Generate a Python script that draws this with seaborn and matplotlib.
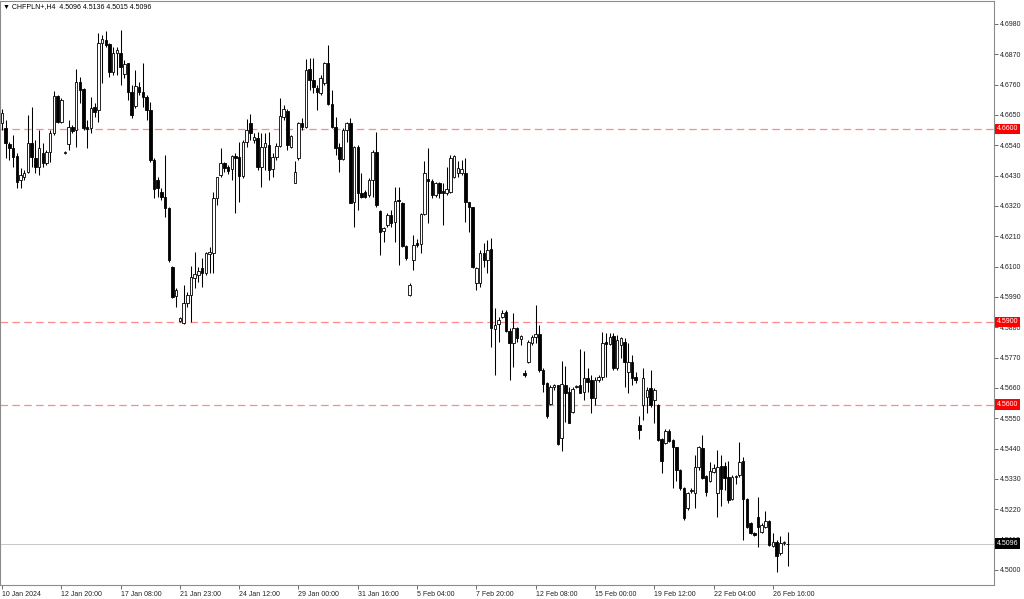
import matplotlib
matplotlib.use("Agg")
import matplotlib.pyplot as plt
import matplotlib.transforms as mtransforms
import seaborn as sns
import numpy as np

# ---------------- data (CHFPLN+, H4) ----------------
opens = [4.6621,4.6603,4.6545,4.6530,4.6501,4.6414,4.6425,4.6443,4.6548,4.6494,
4.6461,4.6512,4.6476,4.6516,4.6585,4.6719,4.6625,4.6512,4.6545,4.6606,
4.6596,4.6770,4.6744,4.6606,4.6603,4.6679,4.6668,4.6911,4.6922,4.6907,
4.6806,4.6875,4.6875,4.6799,4.6839,4.6733,4.6683,4.6752,4.6733,4.6715,
4.6668,4.6487,4.6414,4.6371,4.6353,4.6313,4.6099,4.5994,4.5903,4.5896,
4.5968,4.5997,4.6059,4.6070,4.6095,4.6077,4.6146,4.6150,4.6349,4.6432,
4.6476,4.6461,4.6454,4.6501,4.6498,4.6429,4.6552,4.6621,4.6559,4.6567,
4.6461,4.6534,4.6541,4.6454,4.6498,4.6538,4.6643,4.6665,4.6534,4.6403,
4.6494,4.6621,4.6606,4.6817,4.6777,4.6748,4.6730,4.6766,4.6839,4.6690,
4.6606,4.6534,4.6490,4.6596,4.6621,4.6335,4.6534,4.6367,4.6371,4.6360,
4.6414,4.6516,4.6302,4.6229,4.6251,4.6287,4.6262,4.6342,4.6331,4.6175,
4.5997,4.6124,4.6186,4.6182,4.6291,4.6418,4.6411,4.6360,4.6403,4.6374,
4.6367,4.6371,4.6425,4.6440,4.6440,4.6440,4.6335,4.6316,4.6041,4.6041,
4.6150,4.6124,4.6164,4.5874,4.5892,4.5918,4.5936,4.5867,4.5823,4.5878,
4.5838,4.5714,4.5754,4.5823,4.5845,4.5856,4.5725,4.5678,4.5602,4.5664,
4.5671,4.5479,4.5671,4.5646,4.5573,4.5664,4.5671,4.5646,4.5696,4.5689,
4.5624,4.5689,4.5700,4.5827,4.5820,4.5849,4.5733,4.5816,4.5827,4.5718,
4.5754,4.5700,4.5526,4.5598,4.5627,4.5660,4.5617,4.5598,4.5475,4.5461,
4.5504,4.5471,4.5446,4.5363,4.5297,4.5225,4.5286,4.5279,4.5374,4.5443,
4.5341,4.5323,4.5355,4.5279,4.5377,4.5377,4.5337,4.5258,4.5337,4.5345,
4.5395,4.5258,4.5171,4.5134,4.5192,4.5138,4.5156,4.5178,4.5087,4.5101,
4.5062,4.5098,4.5096]

highs = [4.6672,4.6632,4.6552,4.6577,4.6512,4.6458,4.6451,4.6650,4.6679,4.6559,
4.6596,4.6548,4.6523,4.6596,4.6737,4.6723,4.6712,4.6519,4.6632,4.6614,
4.6817,4.6788,4.6748,4.6632,4.6715,4.6694,4.6947,4.6940,4.6955,4.6911,
4.6897,4.6897,4.6958,4.6849,4.6839,4.6759,4.6813,4.6770,4.6839,4.6723,
4.6697,4.6494,4.6425,4.6385,4.6505,4.6316,4.6102,4.6023,4.5918,4.6034,
4.6008,4.6102,4.6153,4.6099,4.6131,4.6153,4.6171,4.6371,4.6425,4.6530,
4.6480,4.6469,4.6505,4.6512,4.6552,4.6559,4.6636,4.6654,4.6585,4.6588,
4.6585,4.6585,4.6588,4.6512,4.6548,4.6712,4.6686,4.6672,4.6577,4.6483,
4.6625,4.6639,4.6853,4.6857,4.6857,4.6759,4.6795,4.6842,4.6904,4.6741,
4.6643,4.6548,4.6603,4.6625,4.6639,4.6538,4.6541,4.6440,4.6378,4.6422,
4.6523,4.6588,4.6306,4.6244,4.6295,4.6306,4.6389,4.6389,4.6335,4.6179,
4.6041,4.6215,4.6200,4.6295,4.6483,4.6530,4.6418,4.6407,4.6407,4.6403,
4.6461,4.6505,4.6505,4.6483,4.6487,4.6494,4.6335,4.6316,4.6099,4.6160,
4.6186,4.6197,4.6204,4.5950,4.5918,4.5943,4.5943,4.5878,4.5932,4.5881,
4.5852,4.5725,4.5834,4.5852,4.5961,4.5888,4.5733,4.5682,4.5671,4.5674,
4.5671,4.5758,4.5740,4.5664,4.5664,4.5671,4.5801,4.5794,4.5733,4.5707,
4.5700,4.5707,4.5863,4.5859,4.5859,4.5859,4.5852,4.5845,4.5841,4.5823,
4.5780,4.5718,4.5559,4.5733,4.5664,4.5725,4.5660,4.5602,4.5479,4.5512,
4.5512,4.5475,4.5446,4.5366,4.5301,4.5283,4.5297,4.5417,4.5450,4.5490,
4.5345,4.5392,4.5385,4.5435,4.5417,4.5392,4.5395,4.5345,4.5345,4.5464,
4.5410,4.5261,4.5174,4.5138,4.5265,4.5171,4.5214,4.5181,4.5134,4.5109,
4.5123,4.5105,4.5136]

lows = [4.6596,4.6494,4.6487,4.6461,4.6385,4.6385,4.6414,4.6440,4.6461,4.6440,
4.6432,4.6461,4.6469,4.6480,4.6577,4.6621,4.6621,4.6509,4.6523,4.6585,
4.6534,4.6694,4.6596,4.6530,4.6585,4.6643,4.6625,4.6766,4.6897,4.6788,
4.6795,4.6795,4.6759,4.6784,4.6704,4.6639,4.6675,4.6723,4.6679,4.6632,
4.6480,4.6349,4.6353,4.6342,4.6280,4.6117,4.5986,4.5954,4.5899,4.5892,
4.5954,4.5899,4.6023,4.6045,4.6026,4.6070,4.6077,4.6077,4.6324,4.6425,
4.6443,4.6436,4.6414,4.6295,4.6335,4.6422,4.6534,4.6559,4.6548,4.6451,
4.6389,4.6451,4.6414,4.6425,4.6487,4.6534,4.6632,4.6523,4.6530,4.6403,
4.6487,4.6596,4.6603,4.6741,4.6730,4.6668,4.6723,4.6759,4.6686,4.6603,
4.6505,4.6443,4.6487,4.6552,4.6331,4.6244,4.6306,4.6349,4.6349,4.6353,
4.6353,4.6316,4.6142,4.6189,4.6244,4.6244,4.6189,4.6106,4.6171,4.6124,
4.5994,4.6088,4.6171,4.6150,4.6287,4.6258,4.6349,4.6353,4.6349,4.6251,
4.6360,4.6367,4.6422,4.6425,4.6432,4.6262,4.6226,4.6095,4.6015,4.6026,
4.6099,4.6077,4.5809,4.5707,4.5827,4.5914,4.5863,4.5689,4.5736,4.5827,
4.5816,4.5700,4.5751,4.5816,4.5823,4.5718,4.5646,4.5551,4.5598,4.5653,
4.5454,4.5432,4.5537,4.5533,4.5569,4.5660,4.5642,4.5617,4.5646,4.5569,
4.5598,4.5682,4.5689,4.5700,4.5816,4.5725,4.5725,4.5769,4.5664,4.5642,
4.5671,4.5678,4.5475,4.5544,4.5569,4.5591,4.5533,4.5468,4.5352,4.5457,
4.5464,4.5297,4.5323,4.5290,4.5181,4.5218,4.5279,4.5225,4.5363,4.5330,
4.5268,4.5319,4.5352,4.5192,4.5232,4.5290,4.5243,4.5254,4.5312,4.5337,
4.5109,4.5152,4.5131,4.5123,4.5083,4.5134,4.5152,4.5087,4.5083,4.4993,
4.5055,4.5091,4.5015]

closes = [4.6657,4.6548,4.6530,4.6498,4.6407,4.6432,4.6440,4.6548,4.6498,4.6461,
4.6530,4.6476,4.6516,4.6585,4.6719,4.6625,4.6704,4.6516,4.6606,4.6592,
4.6770,4.6741,4.6603,4.6599,4.6675,4.6661,4.6911,4.6926,4.6904,4.6806,
4.6875,4.6886,4.6824,4.6835,4.6733,4.6650,4.6755,4.6733,4.6715,4.6668,
4.6487,4.6382,4.6385,4.6353,4.6313,4.6124,4.5990,4.6015,4.5914,4.5968,
4.5997,4.6063,4.6073,4.6084,4.6077,4.6150,4.6153,4.6349,4.6425,4.6476,
4.6458,4.6447,4.6501,4.6494,4.6429,4.6552,4.6596,4.6585,4.6570,4.6461,
4.6534,4.6548,4.6451,4.6498,4.6538,4.6646,4.6672,4.6541,4.6574,4.6443,
4.6621,4.6606,4.6813,4.6777,4.6752,4.6733,4.6784,4.6839,4.6690,4.6606,
4.6530,4.6490,4.6596,4.6621,4.6331,4.6534,4.6367,4.6353,4.6353,4.6414,
4.6516,4.6324,4.6226,4.6240,4.6287,4.6258,4.6338,4.6338,4.6175,4.6131,
4.6034,4.6179,4.6179,4.6291,4.6440,4.6411,4.6360,4.6403,4.6367,4.6367,
4.6382,4.6494,4.6501,4.6458,4.6454,4.6335,4.6316,4.6099,4.6095,4.6150,
4.6124,4.6160,4.5878,4.5888,4.5907,4.5932,4.5867,4.5823,4.5878,4.5841,
4.5849,4.5707,4.5827,4.5845,4.5856,4.5725,4.5674,4.5559,4.5664,4.5671,
4.5457,4.5674,4.5642,4.5533,4.5656,4.5667,4.5642,4.5696,4.5682,4.5624,
4.5689,4.5700,4.5823,4.5820,4.5845,4.5733,4.5834,4.5841,4.5754,4.5754,
4.5696,4.5689,4.5508,4.5696,4.5653,4.5598,4.5653,4.5471,4.5395,4.5504,
4.5468,4.5446,4.5363,4.5297,4.5189,4.5279,4.5290,4.5374,4.5446,4.5334,
4.5283,4.5359,4.5370,4.5374,4.5294,4.5334,4.5254,4.5337,4.5341,4.5392,
4.5258,4.5156,4.5134,4.5127,4.5156,4.5163,4.5178,4.5091,4.5101,4.5051,
4.5098,4.5101,4.5096]

time_labels = ["10 Jan 2024", "12 Jan 20:00", "17 Jan 08:00", "21 Jan 23:00",
               "24 Jan 12:00", "29 Jan 00:00", "31 Jan 16:00", "5 Feb 04:00",
               "7 Feb 20:00", "12 Feb 08:00", "15 Feb 00:00", "19 Feb 12:00",
               "22 Feb 04:00", "26 Feb 16:00"]
label_step = 16  # one time label every 16 bars

level_lines = [4.6600, 4.5900, 4.5600]
bid_price = 4.5096
title_text = "\u25BC CHFPLN+,H4  4.5096 4.5136 4.5015 4.5096"
price_ticks = [round(4.5000 + 0.0110 * k, 4) for k in range(19)]

# ---------------- plotting ----------------
sns.set_theme(style="white")
plt.rcParams["font.family"] = ["Liberation Sans", "DejaVu Sans"]

n = len(closes)
assert len(opens) == len(highs) == len(lows) == n
idx = np.arange(n)
o = np.array(opens); h = np.array(highs); l = np.array(lows); c = np.array(closes)
bull = c >= o

fig = plt.figure(figsize=(10.24, 5.99), dpi=100)
W, H = 1024, 599
ax = fig.add_axes([0.0, (H - 585) / H, 994 / W, 584 / H])
ax.set_facecolor("white")

# wicks
ax.vlines(idx, l, h, color="black", linewidth=0.75, zorder=3)
# bodies
body_h = np.abs(c - o)
body_b = np.minimum(o, c)
ax.bar(idx[bull], body_h[bull], bottom=body_b[bull], width=0.68,
       color="white", edgecolor="black", linewidth=0.6, zorder=4)
ax.bar(idx[~bull], body_h[~bull], bottom=body_b[~bull], width=0.68,
       color="black", edgecolor="black", linewidth=0.6, zorder=4)

# horizontal levels
for lv in level_lines:
    ax.axhline(lv, color="#FF8A8A", linewidth=0.9, dashes=(6, 3.5), zorder=2)
ax.axhline(bid_price, color="#C8C8C8", linewidth=0.7, zorder=2)

# scales
px_per_bar = 3.706
ax.set_xlim((0 - 2) / px_per_bar, (994 - 2) / px_per_bar)
ax.set_ylim(4.49456, 4.70634)

ax.yaxis.tick_right()
ax.set_yticks(price_ticks)
ax.set_yticklabels([f"{t:.4f}" for t in price_ticks])
ax.set_xticks([k * label_step for k in range(len(time_labels))])
ax.set_xticklabels(time_labels, ha="left")
ax.tick_params(axis="y", which="both", direction="out", length=3, width=0.6,
               color="#555555", labelsize=5, pad=1.5, labelcolor="#222222",
               right=True, left=False)
ax.tick_params(axis="x", which="both", direction="out", length=3, width=0.6,
               color="#555555", labelsize=5, pad=1.0, labelcolor="#222222",
               bottom=True)
for lab in ax.get_xticklabels():
    lab.set_x(lab.get_position()[0])
ax.grid(False)
for sp in ax.spines.values():
    sp.set_color("#8C8C8C")
    sp.set_linewidth(0.8)
ax.set_xlabel("")
ax.set_ylabel("")

# price tags on the price scale
blend = mtransforms.blended_transform_factory(fig.transFigure, ax.transData)
for lv in level_lines:
    fig.text(997 / W, lv, f"{lv:.4f}", transform=blend, color="white",
             fontsize=5, va="center", ha="left", zorder=10,
             bbox=dict(boxstyle="square,pad=0.25", fc="#FF0000", ec="none"))
fig.text(997 / W, bid_price, f"{bid_price:.4f}", transform=blend, color="white",
         fontsize=5, va="center", ha="left", zorder=10,
         bbox=dict(boxstyle="square,pad=0.25", fc="black", ec="none"))

# symbol header
fig.text(3 / W, 1 - 7 / H, title_text, fontsize=5, color="black",
         va="center", ha="left", family=["Liberation Sans", "DejaVu Sans"])

fig.savefig("out.png", dpi=100, facecolor="white")
